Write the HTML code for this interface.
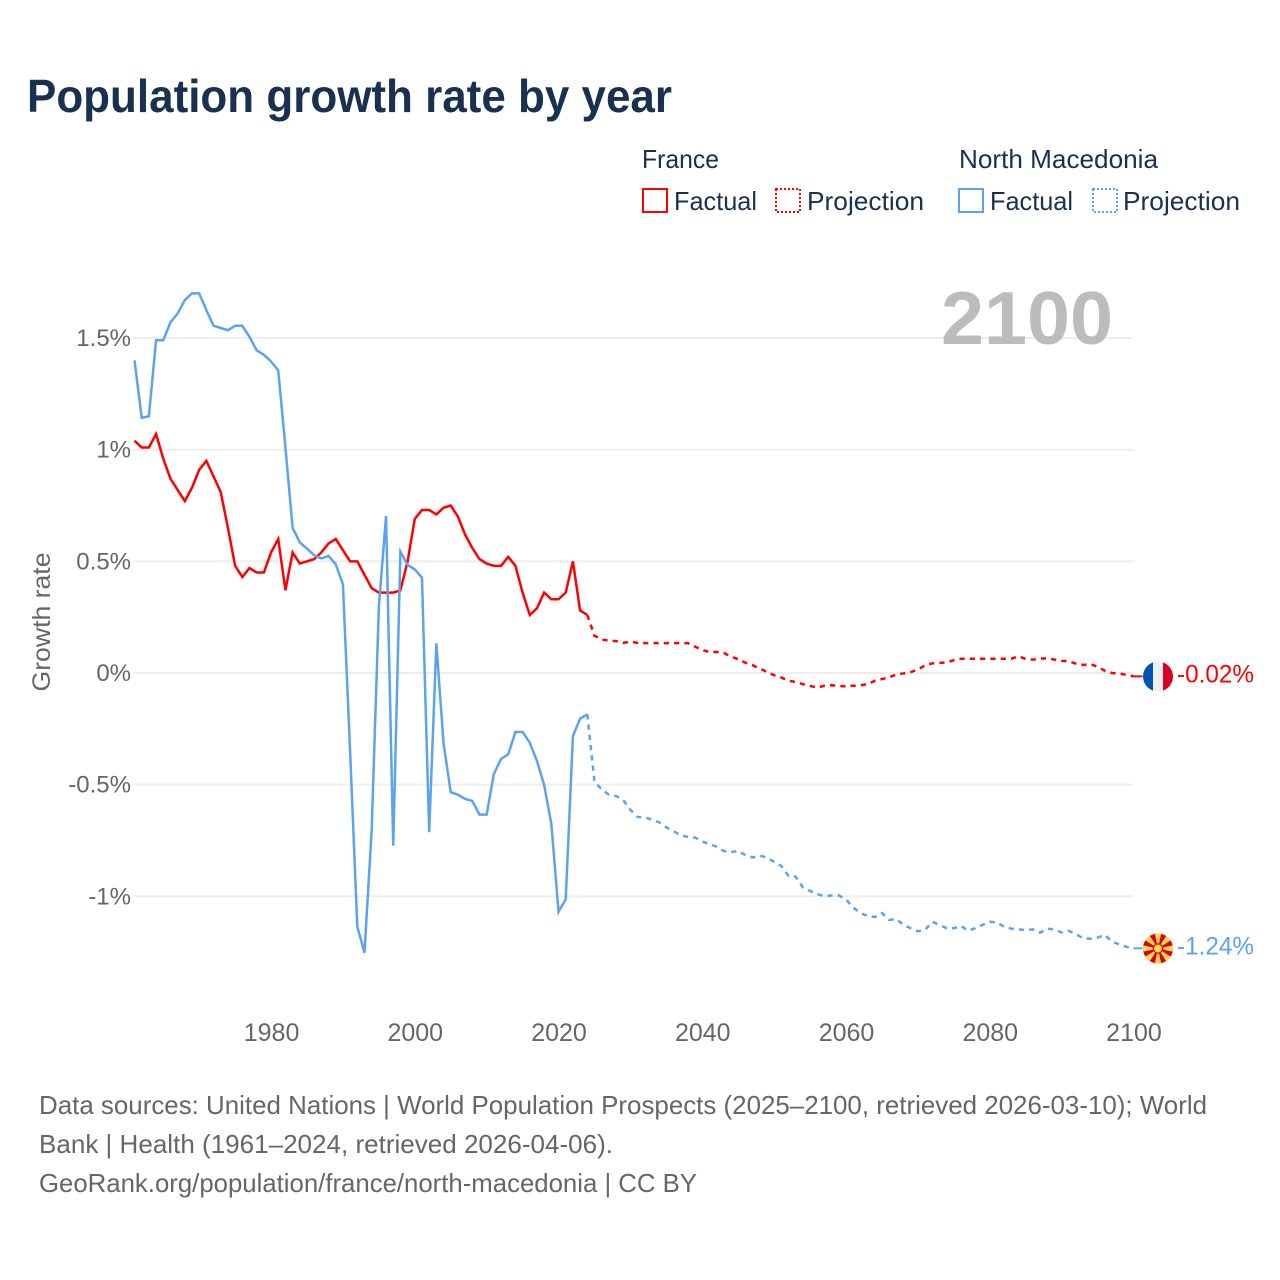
<!DOCTYPE html>
<html lang="en">
<head>
<meta charset="utf-8">
<title>Population growth rate by year</title>
<style>
  html, body { margin: 0; padding: 0; background: #fff; }
  svg { display: block; font-family: "Liberation Sans", sans-serif; }
</style>
</head>
<body>
<svg id="chart" xmlns="http://www.w3.org/2000/svg" width="1280" height="1280" viewBox="0 0 1280 1280">
  <rect width="1280" height="1280" fill="#ffffff"/>
  <text x="27" y="112" font-size="46" font-weight="700" fill="#18314f" textLength="645" lengthAdjust="spacingAndGlyphs">Population growth rate by year</text>

  <g font-size="26" fill="#18314f">
    <text x="642" y="168" textLength="77" lengthAdjust="spacingAndGlyphs">France</text>
    <rect x="643" y="189" width="24" height="23" fill="none" stroke="#ff0000" stroke-width="2"/>
    <text x="674" y="210" textLength="83" lengthAdjust="spacingAndGlyphs">Factual</text>
    <rect x="776" y="189" width="24" height="23" fill="none" stroke="#ff0000" stroke-width="2" stroke-dasharray="2 2"/>
    <text x="807" y="210" textLength="117" lengthAdjust="spacingAndGlyphs">Projection</text>
    <text x="959" y="168" textLength="199" lengthAdjust="spacingAndGlyphs">North Macedonia</text>
    <rect x="959" y="189" width="24" height="23" fill="none" stroke="#5ba4ec" stroke-width="2"/>
    <text x="990" y="210" textLength="83" lengthAdjust="spacingAndGlyphs">Factual</text>
    <rect x="1093" y="189" width="24" height="23" fill="none" stroke="#5ba4ec" stroke-width="2" stroke-dasharray="2 2"/>
    <text x="1123" y="210" textLength="117" lengthAdjust="spacingAndGlyphs">Projection</text>
  </g>

  <g id="grid"></g>
  <text x="941" y="344" font-size="75" font-weight="700" fill="#bcbcbc" textLength="172" lengthAdjust="spacingAndGlyphs">2100</text>
  <g id="yTicks" font-size="24" fill="#666666" text-anchor="end"></g>
  <g id="xTicks" font-size="25" fill="#666666" text-anchor="middle"></g>
  <text transform="translate(50 622) rotate(-90)" font-size="25" fill="#666666" text-anchor="middle" textLength="139" lengthAdjust="spacingAndGlyphs">Growth rate</text>
  <g id="series" fill="none" stroke-width="2.5"></g>

  <g id="flagFrance">
    <clipPath id="clipFr"><circle cx="1158" cy="676.5" r="15"/></clipPath>
    <g clip-path="url(#clipFr)">
      <rect x="1143" y="661" width="10" height="31" fill="#0052b4"/>
      <rect x="1153" y="661" width="10" height="31" fill="#f0f0f0"/>
      <rect x="1163" y="661" width="10" height="31" fill="#d80027"/>
    </g>
  </g>
  <g id="flagMacedonia">
    <clipPath id="clipMk"><circle cx="1158" cy="948.5" r="15"/></clipPath>
    <g clip-path="url(#clipMk)">
      <rect x="1143" y="933" width="30" height="31" fill="#d80027"/>
      <g transform="translate(1158 948.5)" fill="#ffda44">
        <polygon points="0,0 -3.4,-16 3.4,-16"/>
        <polygon points="0,0 -3.4,-16 3.4,-16" transform="rotate(45)"/>
        <polygon points="0,0 -3.4,-16 3.4,-16" transform="rotate(90)"/>
        <polygon points="0,0 -3.4,-16 3.4,-16" transform="rotate(135)"/>
        <polygon points="0,0 -3.4,-16 3.4,-16" transform="rotate(180)"/>
        <polygon points="0,0 -3.4,-16 3.4,-16" transform="rotate(225)"/>
        <polygon points="0,0 -3.4,-16 3.4,-16" transform="rotate(270)"/>
        <polygon points="0,0 -3.4,-16 3.4,-16" transform="rotate(315)"/>
        <circle r="5.2" fill="#d80027"/>
        <circle r="4"/>
      </g>
    </g>
  </g>
  <g id="endLabels" font-size="25"></g>

  <g font-size="26" fill="#666666">
    <text x="39" y="1114" textLength="1168" lengthAdjust="spacingAndGlyphs">Data sources: United Nations | World Population Prospects (2025–2100, retrieved 2026-03-10); World</text>
    <text x="39" y="1153" textLength="574" lengthAdjust="spacingAndGlyphs">Bank | Health (1961–2024, retrieved 2026-04-06).</text>
    <text x="39" y="1192" textLength="658" lengthAdjust="spacingAndGlyphs">GeoRank.org/population/france/north-macedonia | CC BY</text>
  </g>
</svg>

<script>
const factualStartYear = 1961;
const projectionStartYear = 2025;

const franceFactual = [
  1.04, 1.01, 1.01, 1.07, 0.96, 0.87, 0.82, 0.77, 0.83,
  0.91, 0.95, 0.88, 0.81, 0.65, 0.48, 0.43, 0.47, 0.45, 0.45,
  0.54, 0.60, 0.37, 0.54, 0.49, 0.50, 0.51, 0.54, 0.58, 0.60,
  0.55, 0.50, 0.50, 0.44, 0.38, 0.36, 0.36, 0.36, 0.37, 0.50,
  0.69, 0.73, 0.73, 0.71, 0.74, 0.75, 0.70, 0.62, 0.56, 0.51,
  0.49, 0.48, 0.48, 0.52, 0.48, 0.36, 0.26, 0.29, 0.36, 0.33,
  0.33, 0.36, 0.50, 0.28, 0.26
];

const franceProjection = [
  0.167, 0.15, 0.145, 0.143, 0.135,
  0.14, 0.135, 0.134, 0.134, 0.134, 0.134, 0.134, 0.134, 0.134, 0.118,
  0.103, 0.094, 0.094, 0.09, 0.073, 0.062, 0.046, 0.035, 0.02, 0.005,
  -0.01, -0.02, -0.035, -0.04, -0.05, -0.058, -0.065, -0.057, -0.055, -0.058,
  -0.06, -0.057, -0.055, -0.05, -0.035, -0.027, -0.02, -0.006, -0.002, 0.004,
  0.016, 0.034, 0.043, 0.045, 0.048, 0.057, 0.064, 0.064, 0.064, 0.064,
  0.064, 0.064, 0.064, 0.064, 0.075, 0.063, 0.06, 0.064, 0.066, 0.06,
  0.055, 0.052, 0.042, 0.036, 0.04, 0.028, 0.01, 0, -0.002, -0.008,
  -0.015
];

const macedoniaFactual = [
  1.40, 1.143, 1.15, 1.49, 1.49, 1.57, 1.61, 1.67, 1.70,
  1.70, 1.625, 1.555, 1.545, 1.535, 1.555, 1.555, 1.505, 1.445, 1.425,
  1.395, 1.355, 1.01, 0.65, 0.585, 0.557, 0.527, 0.513, 0.524, 0.487,
  0.397, -0.35, -1.136, -1.253, -0.703, 0.297, 0.703, -0.773, 0.543, 0.484,
  0.464, 0.427, -0.713, 0.133, -0.315, -0.534, -0.545, -0.564, -0.573, -0.634,
  -0.634, -0.452, -0.385, -0.364, -0.264, -0.264, -0.312, -0.394, -0.502, -0.676,
  -1.069, -1.014, -0.282, -0.205, -0.185
];

const macedoniaProjection = [
  -0.487, -0.521, -0.545, -0.551, -0.569,
  -0.613, -0.645, -0.646, -0.657, -0.669, -0.691, -0.708, -0.727, -0.734, -0.737,
  -0.755, -0.766, -0.778, -0.797, -0.802, -0.797, -0.815, -0.826, -0.818, -0.826,
  -0.846, -0.864, -0.909, -0.912, -0.96, -0.976, -0.99, -1.0, -0.996, -0.996,
  -1.014, -1.05, -1.076, -1.087, -1.093, -1.075, -1.106, -1.102, -1.128, -1.143,
  -1.157, -1.15, -1.114, -1.128, -1.143, -1.143, -1.133, -1.154, -1.143, -1.128,
  -1.114, -1.117, -1.136, -1.145, -1.148, -1.151, -1.148, -1.163, -1.145, -1.148,
  -1.162, -1.155, -1.17, -1.188, -1.19, -1.185, -1.173, -1.203, -1.215, -1.226,
  -1.233
];

const yTickValues = [1.5, 1, 0.5, 0, -0.5, -1];
const yTickLabels = ['1.5%', '1%', '0.5%', '0%', '-0.5%', '-1%'];
const xTickValues = [1980, 2000, 2020, 2040, 2060, 2080, 2100];
const endValueLabels = ['-0.02%', '-1.24%'];

const RED = '#ff0000';
const BLUE = '#5ba4ec';
const NS = 'http://www.w3.org/2000/svg';

function xScale(year) { return 134.5 + (year - 1961) * 7.187; }
function yScale(value) { return 673 - value * 223.3; }

function make(tag, attrs, parent) {
  const el = document.createElementNS(NS, tag);
  for (const k in attrs) el.setAttribute(k, attrs[k]);
  parent.appendChild(el);
  return el;
}

function linePath(startYear, values) {
  return values.map(function (v, i) {
    return (i ? 'L' : 'M') + xScale(startYear + i).toFixed(2) + ' ' + yScale(v).toFixed(2);
  }).join('');
}

const gridG = document.getElementById('grid');
const yG = document.getElementById('yTicks');
yTickValues.forEach(function (v, i) {
  const line = make('line', { x1: 134, x2: 1133, y1: yScale(v), y2: yScale(v), stroke: '#eeeeee', 'stroke-width': 2 }, gridG);
  
  
  const t = make('text', { x: 131, y: yScale(v) + 8 }, yG);
  
  
  t.textContent = yTickLabels[i];
});

const xG = document.getElementById('xTicks');
xTickValues.forEach(function (v) {
  const t = make('text', { x: xScale(v) + 0.5, y: 1041 }, xG);
  
  
  t.textContent = String(v);
});

const seriesG = document.getElementById('series');

function drawSeries(name, color, factual, projection) {
  const lastFactual = factual[factual.length - 1];
  const lastProjection = projection[projection.length - 1];
  const lastYear = projectionStartYear + projection.length - 1;

  const dashed = make('path', {
    d: linePath(projectionStartYear - 1, [lastFactual].concat(projection)),
    stroke: color,
    'stroke-dasharray': '5.2 5.1'
  }, seriesG);
  
  

  const solid = make('path', {
    d: linePath(factualStartYear, factual),
    stroke: color
  }, seriesG);
  
  

  const connector = make('line', {
    x1: xScale(lastYear),
    x2: xScale(lastYear) + 9,
    y1: yScale(lastProjection),
    y2: yScale(lastProjection),
    stroke: color,
    'stroke-width': 2
  }, seriesG);
  
  
}

drawSeries('france', RED, franceFactual, franceProjection);
drawSeries('north-macedonia', BLUE, macedoniaFactual, macedoniaProjection);

const endG = document.getElementById('endLabels');

const frLabel = make('text', {
  x: 1177,
  y: yScale(franceProjection[franceProjection.length - 1]) + 6,
  fill: RED,
  textLength: 77,
  lengthAdjust: 'spacingAndGlyphs'
}, endG);


frLabel.textContent = endValueLabels[0];

const mkLabel = make('text', {
  x: 1177,
  y: yScale(macedoniaProjection[macedoniaProjection.length - 1]) + 6,
  fill: BLUE,
  textLength: 77,
  lengthAdjust: 'spacingAndGlyphs'
}, endG);


mkLabel.textContent = endValueLabels[1];
</script>
</body>
</html>
